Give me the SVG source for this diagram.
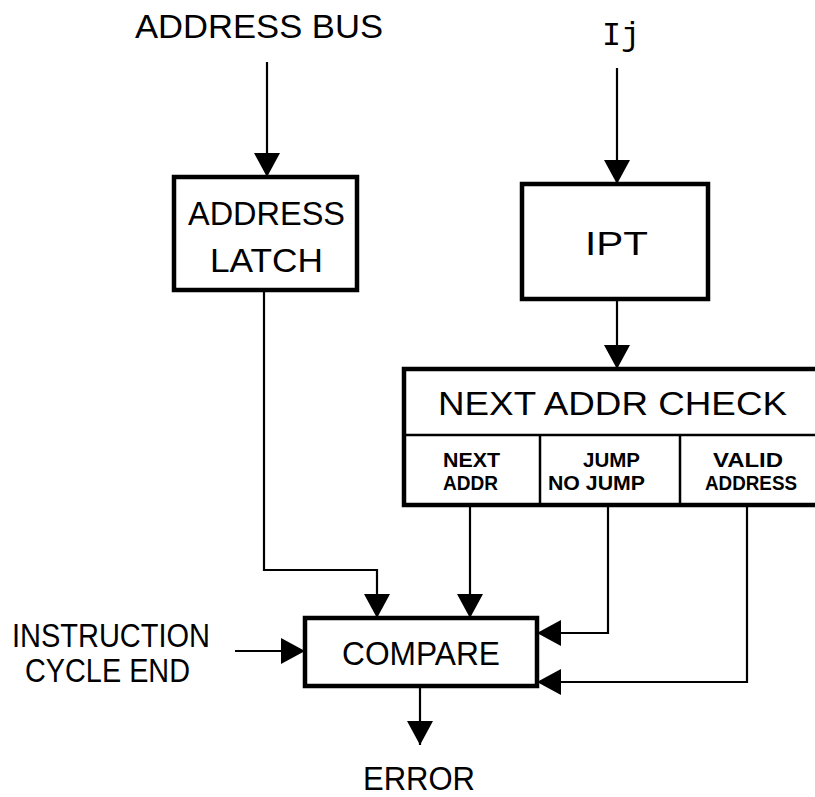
<svg xmlns="http://www.w3.org/2000/svg" width="815" height="797" viewBox="0 0 815 797">
<style>
.box{fill:#fff;stroke:#000;stroke-width:4.5}
.div{fill:none;stroke:#000;stroke-width:2.5}
.con{fill:none;stroke:#000;stroke-width:2.2}
.t{font-family:"Liberation Sans",Arial,sans-serif;fill:#000;font-size:34px}
.s{font-family:"Liberation Sans",Arial,sans-serif;fill:#000;font-size:20px;font-weight:bold}
.m{font-family:"Liberation Mono","Courier New",monospace;fill:#000;font-size:34px}
</style>
<defs>
<marker id="ah" markerUnits="userSpaceOnUse" markerWidth="26" markerHeight="28" refX="24" refY="13" orient="auto">
<path d="M0,0 L24,13 L0,26 Z" fill="#000"/>
</marker>
</defs>
<rect width="815" height="797" fill="#fff"/>
<g id="connectors">
<path class="con" d="M267 62 V177" marker-end="url(#ah)"/>
<path class="con" d="M617 68 V184" marker-end="url(#ah)"/>
<path class="con" d="M264 290 V570 H377 V618" marker-end="url(#ah)"/>
<path class="con" d="M617 299 V369" marker-end="url(#ah)"/>
<path class="con" d="M470 505 V618" marker-end="url(#ah)"/>
<path class="con" d="M608 505 V633 H537" marker-end="url(#ah)"/>
<path class="con" d="M747 505 V682 H537" marker-end="url(#ah)"/>
<path class="con" d="M235 651 H305" marker-end="url(#ah)"/>
<path class="con" d="M420 688 V745" marker-end="url(#ah)"/>
</g>
<g id="address-bus">
<text class="t" x="135" y="38" textLength="248" lengthAdjust="spacingAndGlyphs">ADDRESS BUS</text>
</g>
<g id="ij">
<text class="m" x="602" y="45" textLength="38" lengthAdjust="spacingAndGlyphs">Ij</text>
</g>
<g id="address-latch">
<rect class="box" x="174" y="177" width="183" height="113"/>
<text class="t" x="188" y="225" textLength="157" lengthAdjust="spacingAndGlyphs">ADDRESS</text>
<text class="t" x="210" y="272" textLength="113" lengthAdjust="spacingAndGlyphs">LATCH</text>
</g>
<g id="ipt">
<rect class="box" x="522" y="184" width="186" height="115"/>
<text class="t" x="585" y="255" textLength="63" lengthAdjust="spacingAndGlyphs">IPT</text>
</g>
<g id="next-addr-check">
<rect class="box" x="404" y="369" width="430" height="136"/>
<path class="div" d="M404 435 H834 M540 435 V505 M680 435 V505"/>
<text class="t" x="438" y="415" font-size="36" textLength="349" lengthAdjust="spacingAndGlyphs">NEXT ADDR CHECK</text>
<text class="s" x="443" y="467" textLength="57" lengthAdjust="spacingAndGlyphs">NEXT</text>
<text class="s" x="443" y="490" textLength="55" lengthAdjust="spacingAndGlyphs">ADDR</text>
<text class="s" x="583" y="467" textLength="57" lengthAdjust="spacingAndGlyphs">JUMP</text>
<text class="s" x="548" y="490" textLength="97" lengthAdjust="spacingAndGlyphs">NO JUMP</text>
<text class="s" x="713" y="467" textLength="70" lengthAdjust="spacingAndGlyphs">VALID</text>
<text class="s" x="705" y="490" textLength="92" lengthAdjust="spacingAndGlyphs">ADDRESS</text>
</g>
<g id="compare">
<rect class="box" x="305" y="618" width="232" height="68"/>
<text class="t" x="342" y="665" textLength="158" lengthAdjust="spacingAndGlyphs">COMPARE</text>
</g>
<g id="instruction-cycle-end">
<text class="t" x="12" y="647" font-size="30" textLength="198" lengthAdjust="spacingAndGlyphs">INSTRUCTION</text>
<text class="t" x="25" y="682" font-size="30" textLength="165" lengthAdjust="spacingAndGlyphs">CYCLE END</text>
</g>
<g id="error">
<text class="t" x="363" y="790" font-size="35" textLength="112" lengthAdjust="spacingAndGlyphs">ERROR</text>
</g>
</svg>
